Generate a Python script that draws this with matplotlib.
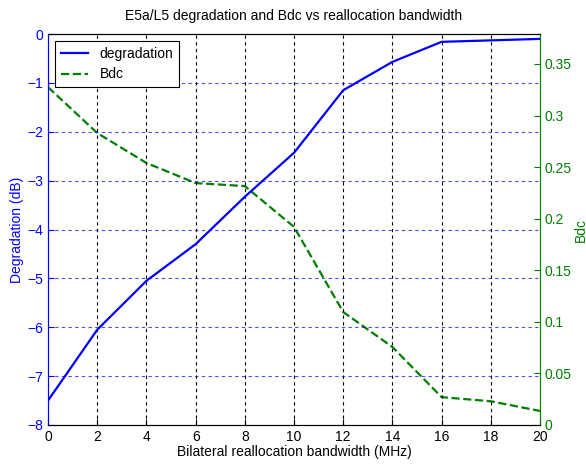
import matplotlib
matplotlib.use("Agg")
import matplotlib.pyplot as plt
import numpy as np

plt.rcParams['font.family'] = ['Liberation Sans', 'DejaVu Sans']
plt.rcParams['font.size'] = 10

bandwidth = [0, 2, 4, 6, 8, 10, 12, 14, 16, 18, 20]
degradation = [-7.5, -6.05, -5.05, -4.3, -3.33, -2.43, -1.15, -0.57, -0.16, -0.13, -0.1]
bdc = [0.3275, 0.283, 0.254, 0.2345, 0.2316, 0.192, 0.1095, 0.0756, 0.027, 0.023, 0.0136]

blue = '#0000ff'
green = '#008000'

fig = plt.figure(figsize=(5.86, 4.66), dpi=100)
ax = fig.add_axes([0.082, 0.088, 0.8395, 0.839])
ax2 = ax.twinx()

l1, = ax.plot(bandwidth, degradation, color=blue, lw=1.6, label='degradation')
l2, = ax2.plot(bandwidth, bdc, color=green, lw=1.6, ls='--', label='Bdc')

ax.set_xlim(0, 20)
ax.set_ylim(-8, 0)
ax2.set_ylim(0, 0.379)
ax.set_xticks(np.arange(0, 21, 2))
ax.set_yticks(np.arange(-8, 1, 1))
ax2.set_yticks(np.arange(0, 0.36, 0.05))
ax2.set_yticklabels(['0', '0.05', '0.1', '0.15', '0.2', '0.25', '0.3', '0.35'])

# grid: vertical black dashed, horizontal blue dashed
for xv in np.arange(2, 20, 2):
    ax.axvline(xv, color='black', ls=(0, (3, 3)), lw=0.8, zorder=0)
for yv in np.arange(-7, 0, 1):
    ax.axhline(yv, color=blue, ls=(0, (3, 3)), lw=0.8, alpha=0.7, zorder=0)

ax.tick_params(direction='in', length=4, top=False)
ax.tick_params(axis='y', colors=blue)
ax2.tick_params(axis='y', colors=green, direction='in', length=4)
ax.spines['left'].set_color(blue)
ax2.spines['left'].set_color(blue)
ax2.spines['right'].set_color(green)
ax.spines['right'].set_color(green)

ax.set_xlabel('Bilateral reallocation bandwidth (MHz)', labelpad=1)
ax.set_ylabel('Degradation (dB)', color=blue, labelpad=2)
ax2.set_ylabel('Bdc', color=green, labelpad=0)
ax2.yaxis.set_label_coords(1.068, 0.5)
ax.set_title('E5a/L5 degradation and Bdc vs reallocation bandwidth', fontsize=10, pad=10)

leg = ax.legend([l1, l2], ['degradation', 'Bdc'], loc='upper left', fancybox=False,
                framealpha=1, edgecolor='black', borderaxespad=0.5)
leg.get_frame().set_linewidth(0.8)
ax.set_zorder(ax2.get_zorder() + 1)
ax.patch.set_visible(False)

plt.savefig('out.png', dpi=100)
